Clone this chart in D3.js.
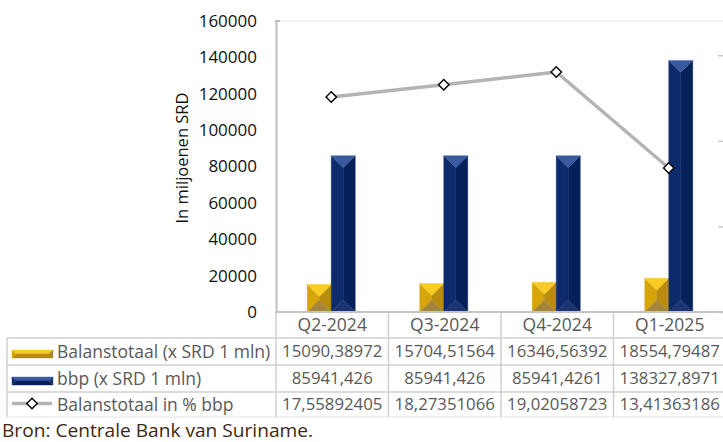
<!DOCTYPE html>
<html>
<head>
<meta charset="utf-8">
<script src="https://cdn.jsdelivr.net/npm/d3@7/dist/d3.min.js"></script>
<style>
  html, body { margin: 0; padding: 0; background: #ffffff; }
  svg { display: block; font-family: "Open Sans", "Noto Sans", sans-serif; }
</style>
</head>
<body>
<svg id="chart" width="723" height="442"></svg>
<script>
// Quarterly data
const categories = ["Q2-2024", "Q3-2024", "Q4-2024", "Q1-2025"];
const balanstotaal = [15090.38972, 15704.51564, 16346.56392, 18554.79487];
const bbp = [85941.426, 85941.426, 85941.4261, 138327.8971];
const pctBbp = [17.55892405, 18.27351066, 19.02058723, 13.41363186];
const yTicks = [0, 20000, 40000, 60000, 80000, 100000, 120000, 140000, 160000];
const y2Ticks = [5, 10, 15, 20];
const seriesNames = ["Balanstotaal (x SRD 1 mln)", "bbp (x SRD 1 mln)", "Balanstotaal in % bbp"];

const svg = d3.select("#chart");

const plot = { left: 275, right: 725, top: 21, bottom: 312 };
const x = d3.scaleBand().domain(categories).range([plot.left, plot.right]);
const y = d3.scaleLinear().domain([0, 160000]).range([plot.bottom, plot.top]);
const y2 = d3.scaleLinear().domain([5, 22]).range([plot.bottom, plot.top]);

const barW = 24;
const sub = d3.scaleBand().domain(["balans", "bbp"]).range([0, x.bandwidth()])
  .paddingInner(0).paddingOuter((x.bandwidth() / barW - 2) / 2);

const palette = {
  balans: { top: "#f8cb25", left: "#d8a40b", right: "#b98c0f", bottom: "#a5853a" },
  bbp:    { top: "#3a5a9f", left: "#0c2a6c", right: "#06205a", bottom: "#1b3571" }
};

// Bevelled rectangle: four facets meeting along the centre ridge
function bevel(g, x0, x1, y0, y1, c, horizontal) {
  const w = x1 - x0, h = y1 - y0;
  let polys;
  if (!horizontal) {
    const d = Math.min(w / 2, h / 2), xm = (x0 + x1) / 2;
    polys = [
      [[x0, y0], [xm, y0 + d], [xm, y1 - d], [x0, y1]], c.left,
      [[x1, y0], [xm, y0 + d], [xm, y1 - d], [x1, y1]], c.right,
      [[x0, y0], [x1, y0], [xm, y0 + d]], c.top,
      [[x0, y1], [x1, y1], [xm, y1 - d]], c.bottom
    ];
  } else {
    const d = Math.min(w / 2, h / 2), ym = (y0 + y1) / 2;
    polys = [
      [[x0, y0], [x0 + d, ym], [x1 - d, ym], [x1, y0]], c.top,
      [[x0, y1], [x0 + d, ym], [x1 - d, ym], [x1, y1]], c.right,
      [[x0, y0], [x0, y1], [x0 + d, ym]], c.left,
      [[x1, y0], [x1, y1], [x1 - d, ym]], c.bottom
    ];
  }
  for (let i = 0; i < polys.length; i += 2) {
    g.append("polygon")
      .attr("points", polys[i].map(p => p.join(",")).join(" "))
      .attr("fill", polys[i + 1])
      .attr("stroke", polys[i + 1]).attr("stroke-width", 0.4);
  }
}

// Top border of plot area
svg.append("line")
  .attr("x1", plot.left).attr("x2", plot.right)
  .attr("y1", plot.top).attr("y2", plot.top)
  .attr("stroke", "#e6f3f3").attr("stroke-width", 1.5);

// Bars
const barsG = svg.append("g");
categories.forEach((cat, i) => {
  const b0 = x(cat);
  [["balans", balanstotaal[i]], ["bbp", bbp[i]]].forEach(([key, v]) => {
    const x0 = b0 + sub(key);
    bevel(barsG, x0, x0 + sub.bandwidth(), y(v), y(0), palette[key], false);
  });
});

// Left axis
const yAxis = svg.append("g")
  .attr("transform", `translate(${plot.left + 1},0)`)
  .call(d3.axisLeft(y).tickValues(yTicks).tickSize(0).tickPadding(19).tickFormat(d3.format("d")));
yAxis.select(".domain").attr("stroke", "#c0c0c0").attr("stroke-width", 2);
yAxis.selectAll("text").attr("font-size", 17).attr("fill", "#111").attr("font-family", "Open Sans");
svg.append("line")
  .attr("x1", plot.left).attr("x2", plot.left + 5)
  .attr("y1", plot.top).attr("y2", plot.top)
  .attr("stroke", "#c0c0c0").attr("stroke-width", 2);

// Secondary axis ticks
const y2Axis = svg.append("g")
  .attr("transform", `translate(${plot.right + 1},0)`)
  .call(d3.axisLeft(y2).tickValues(y2Ticks).tickSize(8).tickFormat(""));
y2Axis.select(".domain").remove();
y2Axis.selectAll("line").attr("stroke", "#c8c8c8").attr("stroke-width", 1.5);

// Y axis title
svg.append("text")
  .attr("transform", "translate(188,158) rotate(-90)")
  .attr("text-anchor", "middle")
  .attr("font-size", 16.5).attr("fill", "#111")
  .text("In miljoenen SRD");

// Line series
const line = d3.line()
  .x((d, i) => x(categories[i]) + x.bandwidth() / 2)
  .y(d => y2(d));
svg.append("path").datum(pctBbp)
  .attr("d", line).attr("fill", "none")
  .attr("stroke", "#b4b4b4").attr("stroke-width", 3.5);
const diamond = d3.symbol().type(d3.symbolDiamond2).size(70);
svg.selectAll(".mk").data(pctBbp).join("path")
  .attr("class", "mk")
  .attr("d", diamond)
  .attr("transform", (d, i) => `translate(${x(categories[i]) + x.bandwidth() / 2},${y2(d)})`)
  .attr("fill", "#fff").attr("stroke", "#000").attr("stroke-width", 1.4);

// Data table
const rowEdges = [312, 338, 365, 392, 417];
const tableLeft = 7;
const grid = svg.append("g").attr("stroke", "#d0d0d0").attr("stroke-width", 1.5);
// horizontal lines
grid.append("line").attr("x1", tableLeft).attr("x2", 723).attr("y1", rowEdges[1]).attr("y2", rowEdges[1]);
grid.append("line").attr("x1", tableLeft).attr("x2", 723).attr("y1", rowEdges[2]).attr("y2", rowEdges[2]);
grid.append("line").attr("x1", tableLeft).attr("x2", 723).attr("y1", rowEdges[3]).attr("y2", rowEdges[3]);
grid.append("line").attr("x1", tableLeft).attr("x2", 723).attr("y1", rowEdges[4]).attr("y2", rowEdges[4]).attr("stroke", "#ececec");
// vertical lines
grid.append("line").attr("x1", tableLeft).attr("x2", tableLeft).attr("y1", rowEdges[1]).attr("y2", rowEdges[4]);
categories.forEach(cat => {
  grid.append("line").attr("x1", x(cat) + 1).attr("x2", x(cat) + 1)
    .attr("y1", rowEdges[0]).attr("y2", rowEdges[4]);
});
// category axis line
svg.append("line")
  .attr("x1", plot.left).attr("x2", 723)
  .attr("y1", plot.bottom).attr("y2", plot.bottom)
  .attr("stroke", "#c4c4c4").attr("stroke-width", 2);

const rowMid = i => (rowEdges[i] + rowEdges[i + 1]) / 2;
const fmt = v => String(v).replace(".", ",");
const tableText = svg.append("g")
  .attr("font-size", 16.8).attr("fill", "#595959").attr("text-anchor", "middle");

categories.forEach((cat, i) => {
  const cx = x(cat) + x.bandwidth() / 2 + 1;
  tableText.append("text").attr("x", cx).attr("y", rowMid(0)).attr("dy", "0.35em").attr("font-size", 17.5).text(cat);
  tableText.append("text").attr("x", cx).attr("y", rowMid(1)).attr("dy", "0.35em").text(fmt(balanstotaal[i]));
  tableText.append("text").attr("x", cx).attr("y", rowMid(2)).attr("dy", "0.35em").text(fmt(bbp[i]));
  tableText.append("text").attr("x", cx).attr("y", rowMid(3)).attr("dy", "0.35em").text(fmt(pctBbp[i]));
});

// Row headers with legend keys
seriesNames.forEach((name, i) => {
  svg.append("text")
    .attr("x", 57).attr("y", rowMid(i + 1)).attr("dy", "0.35em")
    .attr("font-size", 17.5).attr("fill", "#595959")
    .text(name);
});
const keys = svg.append("g");
bevel(keys, 12, 53, rowMid(1) - 1.5, rowMid(1) + 6.5, palette.balans, true);
bevel(keys, 12, 53, rowMid(2) - 1.5, rowMid(2) + 6.5, palette.bbp, true);
keys.append("line")
  .attr("x1", 12).attr("x2", 52).attr("y1", rowMid(3) - 1).attr("y2", rowMid(3) - 1)
  .attr("stroke", "#b4b4b4").attr("stroke-width", 3.5);
keys.append("path").attr("d", diamond)
  .attr("transform", `translate(32,${rowMid(3) - 1})`)
  .attr("fill", "#fff").attr("stroke", "#000").attr("stroke-width", 1.4);

// Source note
svg.append("text")
  .attr("x", 2).attr("y", 437)
  .attr("font-size", 18).attr("fill", "#3d2814")
  .attr("textLength", 311).attr("lengthAdjust", "spacingAndGlyphs")
  .text("Bron: Centrale Bank van Suriname.");
</script>
</body>
</html>
